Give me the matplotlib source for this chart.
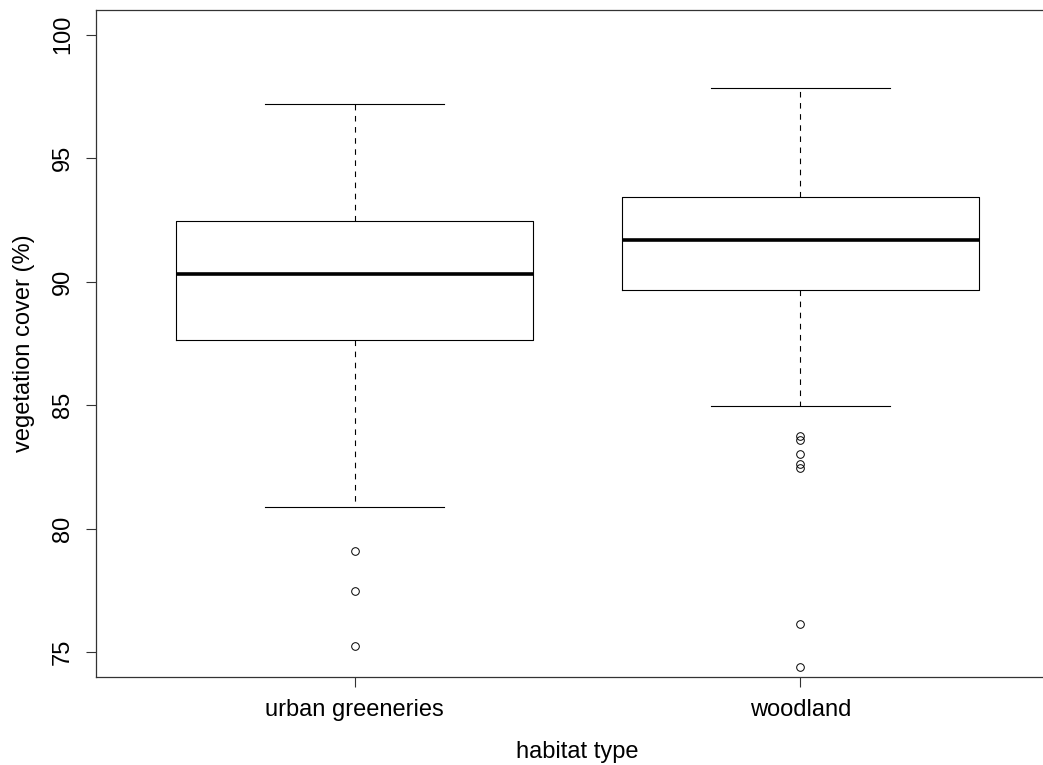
import numpy as np
import matplotlib as mpl
import matplotlib.pyplot as plt

mpl.rcParams.update({
    "font.family": ["Liberation Sans", "DejaVu Sans"], "font.size": 17,
})

# ---- data ----
groups = ["urban greeneries", "woodland"]
q1 = [87.65, 89.68]
median = [90.32, 91.70]
q3 = [92.47, 93.45]
whisker_low = [80.90, 84.98]
whisker_high = [97.20, 97.85]
outliers = [
    [79.10, 77.48, 75.25],
    [83.75, 83.58, 83.02, 82.62, 82.47, 76.13, 74.40],
]

stats = []
for i, name in enumerate(groups):
    stats.append({
        "label": name, "q1": q1[i], "med": median[i], "q3": q3[i],
        "whislo": whisker_low[i], "whishi": whisker_high[i],
        "fliers": outliers[i],
    })

W, H = 1043, 765
fig = plt.figure(figsize=(W / 100, H / 100), dpi=100)
# right spine lies just past the image edge, as in the original
ax = fig.add_axes([96 / W, (H - 677) / H, 963 / W, 667 / H])

ax.bxp(stats, positions=[1, 2], widths=0.8, capwidths=0.4,
       boxprops=dict(color="black", linewidth=0.8),
       medianprops=dict(color="black", linewidth=2.6, solid_capstyle="butt"),
       whiskerprops=dict(color="black", linewidth=0.8, linestyle=(0, (5, 5))),
       capprops=dict(color="black", linewidth=0.8),
       flierprops=dict(marker="o", markersize=5.5, markerfacecolor="none",
                       markeredgecolor="black", markeredgewidth=0.7))

ax.set_xlim(0.42, 2.58)
ax.set_ylim(74, 101)
ax.set_yticks([75, 80, 85, 90, 95, 100])
ax.set_yticklabels(["75", "80", "85", "90", "95", "100"], rotation=90, va="center")
ax.set_xticks([1, 2])
ax.set_xticklabels(groups)
ax.tick_params(axis="both", direction="out", length=7, width=0.8, color="#333333")
ax.tick_params(axis="y", pad=9)
ax.tick_params(axis="x", pad=9)
for s in ax.spines.values():
    s.set_linewidth(0.9)
    s.set_color("#333333")

ax.set_xlabel("habitat type", labelpad=14)
ax.set_ylabel("vegetation cover (%)", labelpad=12)

plt.savefig("out.png", dpi=100)
plt.close()
